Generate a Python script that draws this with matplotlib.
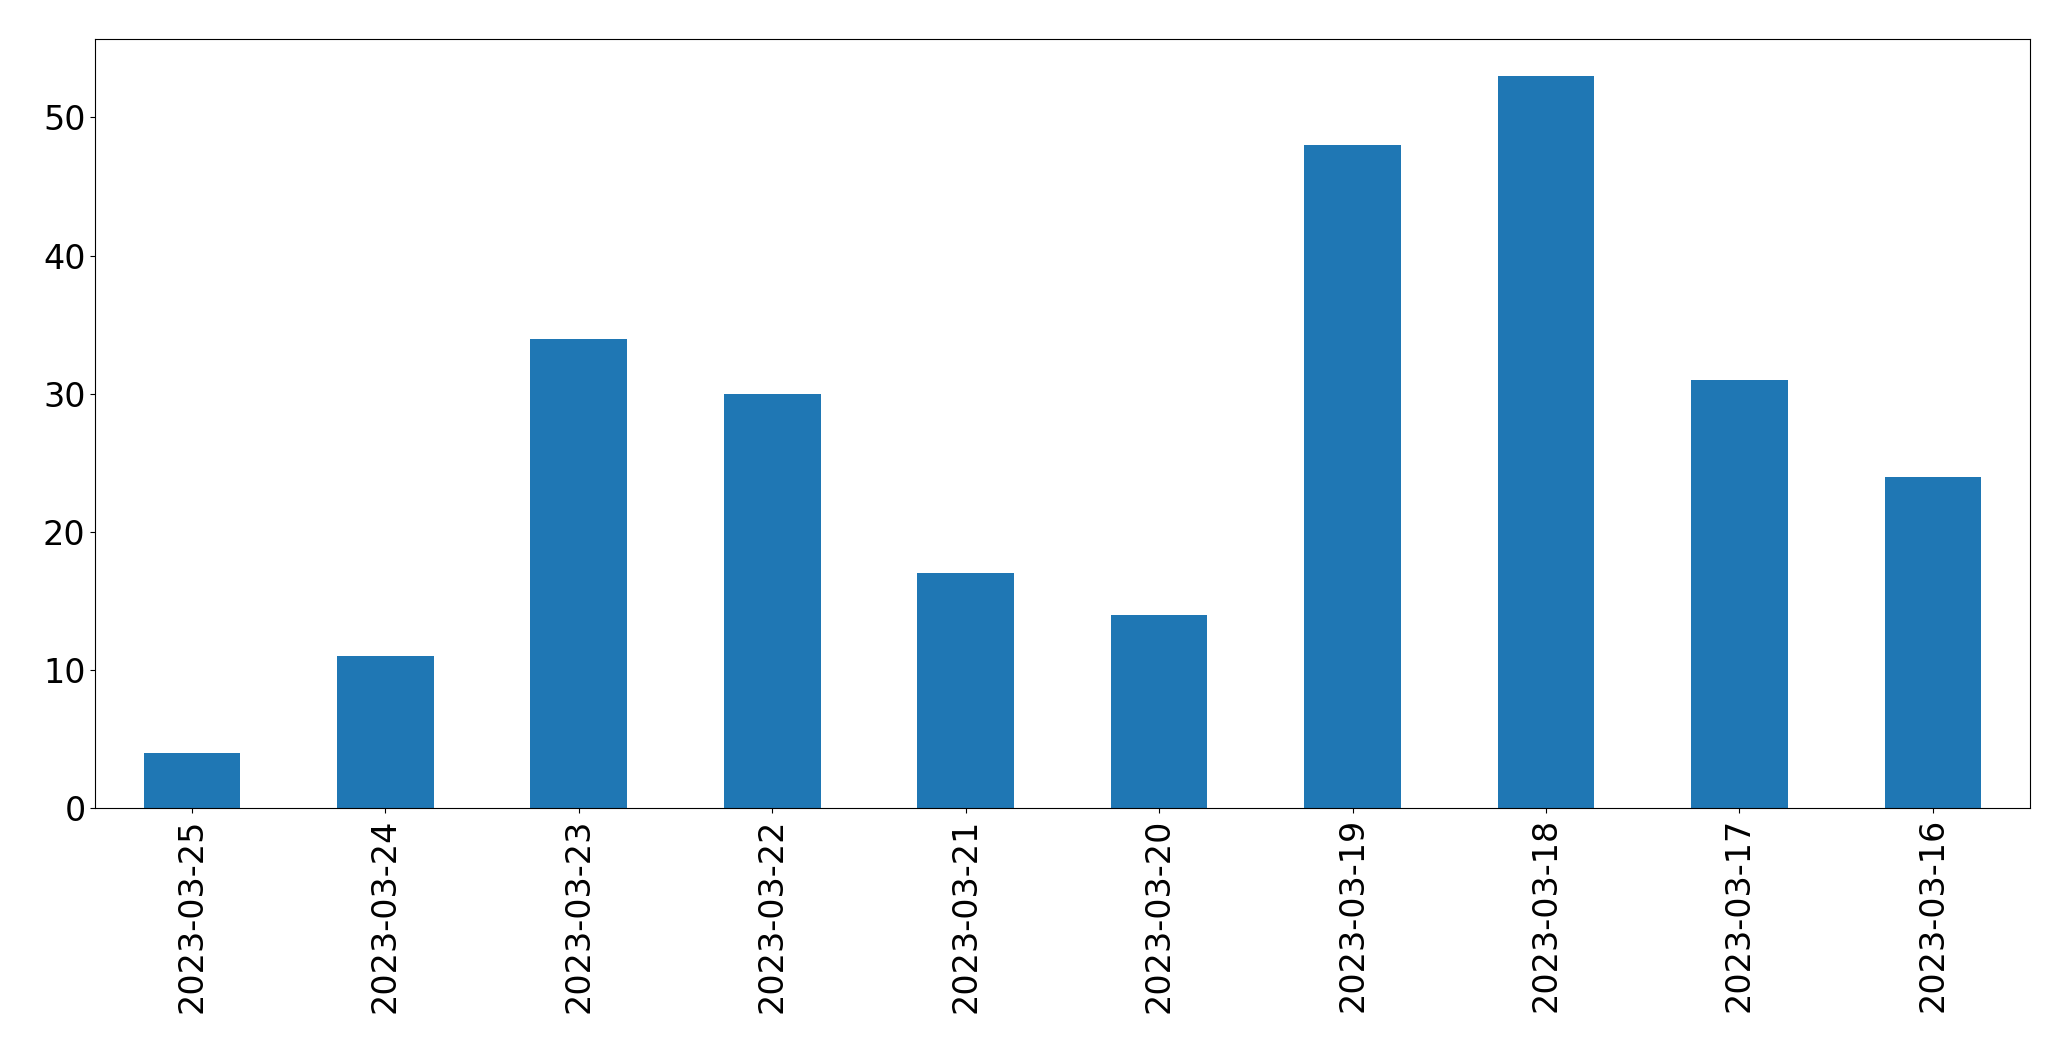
import matplotlib
matplotlib.use("Agg")
import matplotlib.pyplot as plt
import numpy as np

dates = ["2023-03-25","2023-03-24","2023-03-23","2023-03-22","2023-03-21",
         "2023-03-20","2023-03-19","2023-03-18","2023-03-17","2023-03-16"]
counts = [4, 11, 34, 30, 17, 14, 48, 53, 31, 24]

fig = plt.figure(figsize=(20.71, 10.61), dpi=100)
ax = fig.add_axes([0.046, 0.238, 0.934, 0.725])
x = np.arange(len(dates))
ax.bar(x, counts, width=0.5, color="#1f77b4")
ax.set_xlim(-0.5, len(dates) - 0.5)
ax.set_ylim(0, 55.65)
ax.set_xticks(x)
ax.set_xticklabels(dates, rotation=90)
ax.tick_params(labelsize=24)
fig.savefig("out.png", dpi=100)
